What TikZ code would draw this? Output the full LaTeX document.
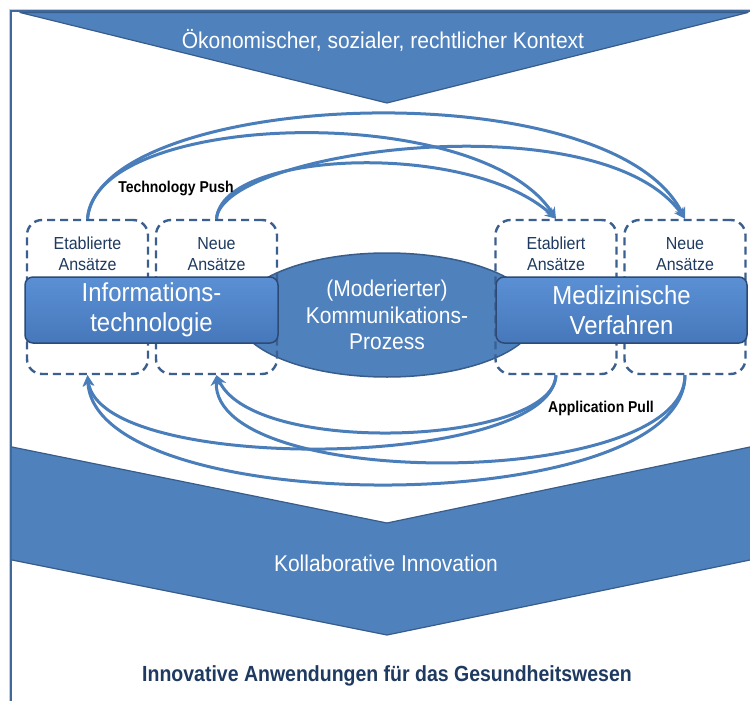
\documentclass[tikz,border=0pt]{standalone}
\usepackage{fontspec}
\setmainfont{Liberation Sans}[FakeStretch=0.92]
\newfontfamily\narrowbold{Liberation Sans}[FakeStretch=0.89]
\usetikzlibrary{shapes.geometric,arrows.meta}
\definecolor{chev}{HTML}{4F81BD}
\definecolor{chevb}{HTML}{385D8A}
\definecolor{arrc}{HTML}{4A7EBB}
\definecolor{dashc}{HTML}{3B5F8F}
\definecolor{navy}{HTML}{1F3A60}
\definecolor{framec}{HTML}{41689B}
\definecolor{boxtop}{HTML}{5B90D4}
\definecolor{boxbot}{HTML}{4677BB}
\definecolor{boxb}{HTML}{2C4A75}
\tikzset{
  dbox/.style={draw=dashc, line width=2.4pt, dash pattern=on 8pt off 5pt, rounded corners=15pt,
    minimum width=121pt, minimum height=154pt, inner sep=0pt},
  bluebox/.style={draw=boxb, line width=1.5pt, rounded corners=8pt, top color=boxtop, bottom color=boxbot,
    minimum height=66pt, inner sep=0pt, text=white, align=center, font=\fontsize{26}{30}\selectfont},
  dtext/.style={text=navy, align=center, font=\fontsize{17.4}{21}\selectfont, inner sep=0pt},
  arr/.style={draw=arrc, line width=3pt, -{Stealth[length=11pt,width=11pt]}},
  boldlbl/.style={font=\narrowbold\bfseries\fontsize{15.7}{17}\selectfont, inner sep=0pt},
  wtext/.style={text=white, inner sep=0pt, font=\fontsize{22.8}{26}\selectfont}
}
\begin{document}
\begin{tikzpicture}[x=1pt,y=-1pt]
\useasboundingbox (0,0) rectangle (750,701);
\fill[white] (0,0) rectangle (750,701);
% frame
\draw[gray!40, line width=0.8pt] (9.5,701) -- (9.5,9.5) -- (750,9.5);
\draw[framec, line width=2pt] (11,701) -- (11,11) -- (750,11);
% top chevron
\filldraw[fill=chev, draw=chevb, line width=1.2pt, line join=round] (20,12.5) -- (748,12.5) -- (387,103) -- cycle;
\node[wtext] (ctx) at (383,40) {Ökonomischer, sozialer, rechtlicher Kontext};
% bottom chevron
\fill[chev] (12,447) -- (387,523) -- (750,447) -- (750,560) -- (387,635) -- (12,560) -- cycle;
\draw[chevb, line width=1.2pt] (12,447) -- (387,523) -- (750,447);
\draw[chevb, line width=1.2pt] (12,560) -- (387,635) -- (750,560);
\draw[framec, line width=2pt] (11,447) -- (11,701);
\node[wtext] (koll) at (386,563) {Kollaborative Innovation};
% ellipse
\node[ellipse, draw=chevb, line width=1.5pt, fill=chev, minimum width=300pt, minimum height=124pt,
  text=white, align=center, inner sep=0pt, font=\fontsize{22.8}{26.5}\selectfont] (kom) at (387,315)
  {(Moderierter)\\Kommunikations-\\Prozess};
% dashed boxes
\node[dbox] (b1) at (87.5,297) {};
\node[dbox] (b2) at (216.5,297) {};
\node[dbox] (b3) at (556,297) {};
\node[dbox] (b4) at (685,297) {};
\node[dtext] (t1) at (87.5,254) {Etablierte\\Ansätze};
\node[dtext] (t2) at (216.5,254) {Neue\\Ansätze};
\node[dtext] (t3) at (556,254) {Etabliert\\Ansätze};
\node[dtext] (t4) at (685,254) {Neue\\Ansätze};
% blue boxes
\node[bluebox, minimum width=253pt] (it) at (151.5,310) {Informations-\\technologie};
\node[bluebox, minimum width=251pt] (med) at (621.5,310) {Medizinische\\Verfahren};
% technology push
\draw[arr] (b1.north) .. controls (100,90) and (610,68) .. (b4.north);
\draw[arr] (b1.north) .. controls (95,110) and (480,100) .. (b3.north);
\draw[arr] (b2.north) .. controls (222,150) and (600,100) .. (b4.north);
\draw[arr] (b2.north) .. controls (222,150) and (470,140) .. (b3.north);
% application pull
\draw[arr] (b3.south) .. controls (553,445) and (255,457) .. (b2.south);
\draw[arr] (b3.south) .. controls (550,470) and (100,475) .. (b1.south);
\draw[arr] (b4.south) .. controls (685,490) and (212,492) .. (b2.south);
\draw[arr] (b4.south) .. controls (685,520) and (95,521) .. (b1.south);
\node[boldlbl] (tp) at (176,188) {Technology Push};
\node[boldlbl] (ap) at (601,408) {Application Pull};
\node[text=navy, inner sep=0pt, font=\narrowbold\bfseries\fontsize{21.9}{24}\selectfont] (head) at (387,676)
  {Innovative Anwendungen für das Gesundheitswesen};
\end{tikzpicture}
\end{document}
